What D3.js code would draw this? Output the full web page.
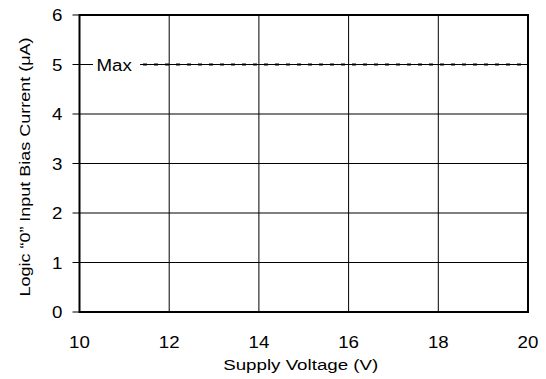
<!DOCTYPE html>
<html>
<head>
<meta charset="utf-8">
<script src="https://cdn.jsdelivr.net/npm/d3@7"></script>
<style>
  body { margin: 0; background: #fff; }
  text { font-family: Arial, "Liberation Sans", sans-serif; fill: #000; }
</style>
</head>
<body>
<div id="chart"></div>
<script>
// Chart data
var xTicks = [10, 12, 14, 16, 18, 20];
var yTicks = [0, 1, 2, 3, 4, 5, 6];
var maxValue = 5;
var maxLabel = "Max";
var xTitle = "Supply Voltage (V)";
var yTitle = "Logic \u201C0\u201D Input Bias Current (\u03BCA)";

var W = 546, H = 379;
var margin = {left: 79.5, right: 18, top: 15, bottom: 67};
var width = W - margin.left - margin.right,
    height = H - margin.top - margin.bottom;

// text in the reference runs a little wide
var fs = 17, stretch = 1.1;

var svg = d3.select("#chart").append("svg")
    .attr("width", W).attr("height", H)
  .append("g")
    .attr("transform", "translate(" + margin.left + "," + margin.top + ")");

var x = d3.scaleLinear().domain([10, 20]).range([0, width]);
var y = d3.scaleLinear().domain([0, 6]).range([height, 0]);

// helper: put a stretched text at (tx, ty), optional rotation
function label(parent, tx, ty, str, anchor, rot, size, sx) {
    var g = parent.append("g")
        .attr("transform", "translate(" + tx + "," + ty + ")" +
              (rot ? " rotate(" + rot + ")" : "") + " scale(" + (sx || stretch) + ",1)");
    g.append("text")
        .attr("text-anchor", anchor)
        .attr("font-size", (size || fs) + "px")
        .text(str);
    return g;
}

// Grid lines
svg.selectAll(".vgrid").data(xTicks.slice(1, -1)).enter().append("line")
    .attr("x1", function(d) { return x(d); }).attr("x2", function(d) { return x(d); })
    .attr("y1", 0).attr("y2", height)
    .attr("stroke", "#000").attr("stroke-width", 1);
svg.selectAll(".hgrid").data(yTicks.slice(1, -1)).enter().append("line")
    .attr("x1", 0).attr("x2", width)
    .attr("y1", function(d) { return y(d); }).attr("y2", function(d) { return y(d); })
    .attr("stroke", "#000").attr("stroke-width", 1);

// Max line (dashed overlay) with label
svg.append("line")
    .attr("x1", x(10.68)).attr("x2", width)
    .attr("y1", y(maxValue)).attr("y2", y(maxValue))
    .attr("stroke", "#000").attr("stroke-width", 2)
    .attr("stroke-dasharray", "4,7");
svg.append("rect")
    .attr("x", x(10.3)).attr("y", y(maxValue) - 10)
    .attr("width", x(11.35) - x(10.3)).attr("height", 20)
    .attr("fill", "#fff");
label(svg, x(10.38), y(maxValue) + 6, maxLabel, "start");

// Frame
svg.append("rect")
    .attr("x", 0).attr("y", 0).attr("width", width).attr("height", height)
    .attr("fill", "none").attr("stroke", "#000").attr("stroke-width", 2);

// Y axis ticks and labels
svg.selectAll(".ytick").data(yTicks).enter().append("line")
    .attr("x1", -7).attr("x2", 0)
    .attr("y1", function(d) { return y(d); }).attr("y2", function(d) { return y(d); })
    .attr("stroke", "#000").attr("stroke-width", 1);
yTicks.forEach(function(d) {
    label(svg, -17, y(d) + 6, d, "end");
});

// X axis labels
xTicks.forEach(function(d) {
    label(svg, x(d), height + 36, d, "middle");
});

// Axis titles
label(svg, width / 2 - 3, height + 58, xTitle, "middle", 0, 15, 1.25);
label(svg, -margin.left + 30, 167 - margin.top, yTitle, "middle", -90, 15, 1.2);
</script>
</body>
</html>
